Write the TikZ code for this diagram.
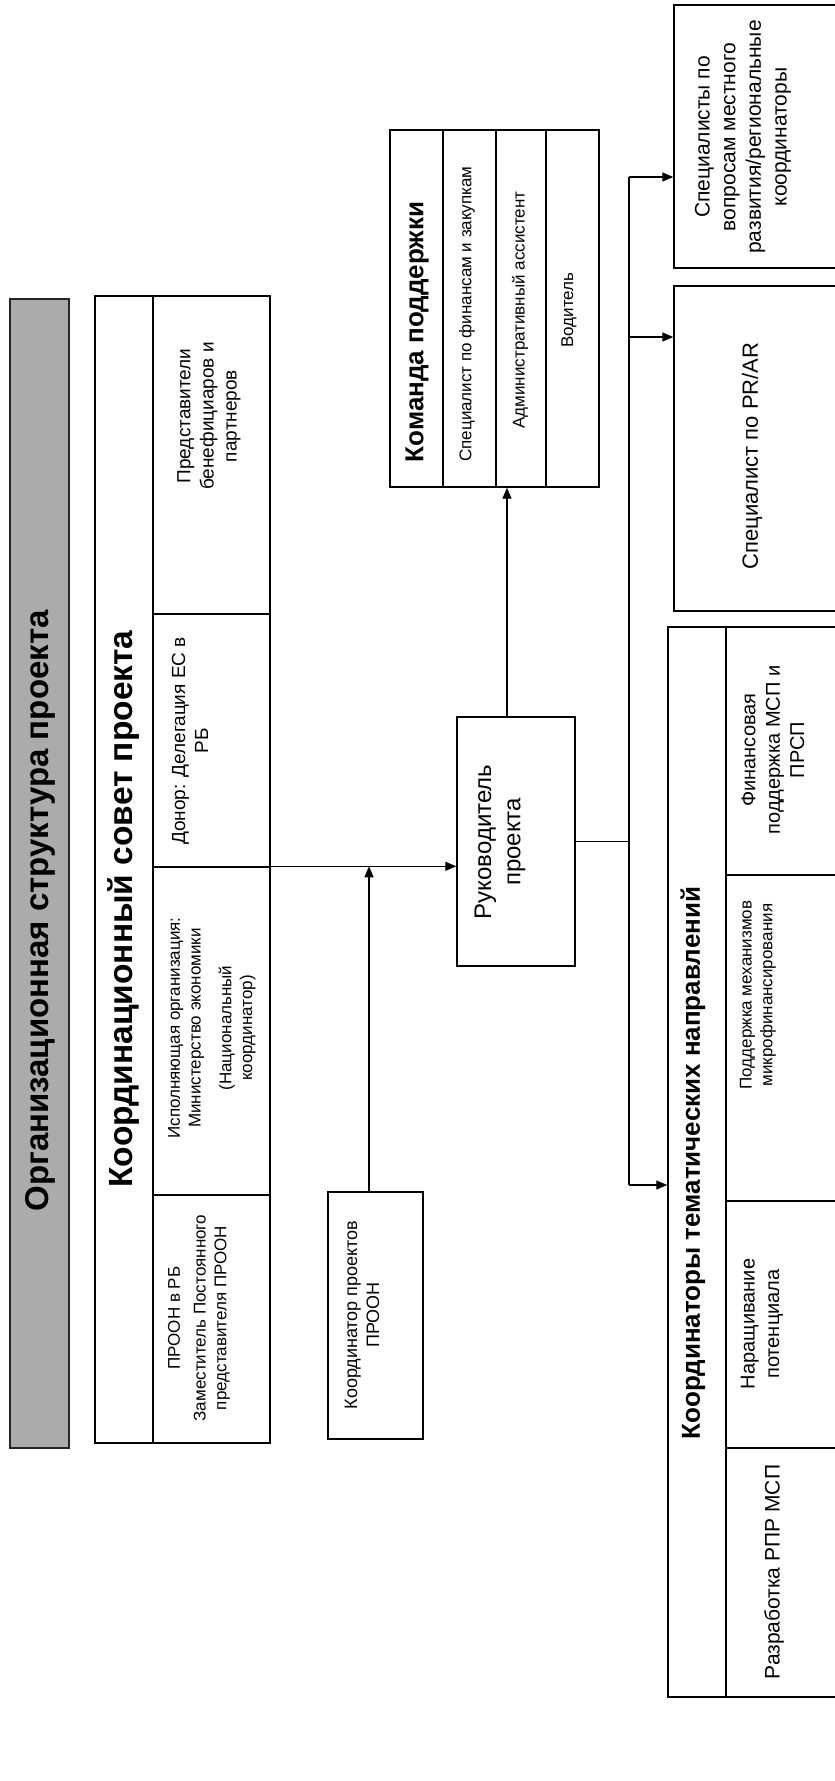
\documentclass[tikz,border=0pt]{standalone}
\usepackage{fontspec}
\setmainfont{Liberation Sans}
\usetikzlibrary{arrows.meta,fit}
\newcommand{\fs}[1]{\fontsize{#1}{1.22\dimexpr #1pt\relax}\selectfont}
\begin{document}
\begin{tikzpicture}[x=1pt,y=-1pt,
  box/.style={draw=black, line width=1.4pt, inner sep=0pt},
  tbox/.style={draw=black!85, line width=2pt, fill=black!33, inner sep=0pt},
  txt/.style={rotate=90, align=center, inner sep=0pt},
  con/.style={line width=1.2pt},
  arr/.style={line width=1.2pt, -{Triangle[length=11pt,width=9pt]}}]
\useasboundingbox (0,0) rectangle (835,1781);

% title
\node[tbox, fit={(10,299) (69,1448)}] (title) {};
\node[txt, font=\bfseries\fs{33}] (titletxt) at (40,911) {Организационная структура проекта};

% coordination council
\node[box, fit={(95,296) (153,1443)}] (ch) {};
\node[box, fit={(153,296) (270,614)}] (cP) {};
\node[box, fit={(153,614) (270,867)}] (cD) {};
\node[box, fit={(153,867) (270,1195)}] (cI) {};
\node[box, fit={(153,1195) (270,1443)}] (cU) {};
\node[txt, font=\bfseries\fs{33.5}] (chtxt) at (124,909) {Координационный совет проекта};
\node[txt, font=\fs{19}] (cPtxt) at (209,416) {Представители\\бенефициаров и\\партнеров};
\node[txt, font=\fs{19}] (cDtxt) at (190,741) {Донор: Делегация ЕС в\\РБ};
\node[txt, font=\fs{17}] (cItxt) at (212,1028) {Исполняющая организация:\\Министерство экономики\\[10pt](Национальный\\координатор)};
\node[txt, font=\fs{17}] (cUtxt) at (199,1318) {ПРООН в РБ\\[5pt]Заместитель Постоянного\\представителя ПРООН};

% UNDP coordinator
\node[box, fit={(328,1192) (423,1439)}] (cu) {};
\node[txt, font=\fs{18}] (cutxt) at (362,1315) {Координатор проектов\\ПРООН};

% project manager
\node[box, fit={(457,717) (575,966)}] (ruk) {};
\node[txt, font=\fs{24}] (ruktxt) at (500,842) {Руководитель\\проекта};

% support team
\node[box, fit={(390,130) (443,487)}] (kh) {};
\node[box, fit={(443,130) (496,487)}] (k1) {};
\node[box, fit={(496,130) (546,487)}] (k2) {};
\node[box, fit={(546,130) (599,487)}] (k3) {};
\node[txt, font=\bfseries\fs{26}] (khtxt) at (417,332) {Команда поддержки};
\node[txt, font=\fs{17}] (k1txt) at (467,314) {Специалист по финансам и закупкам};
\node[txt, font=\fs{17}] (k2txt) at (520,310) {Административный ассистент};
\node[txt, font=\fs{17}] (k3txt) at (569,310) {Водитель};

% local development specialists
\node[box, fit={(674,5) (850,268)}] (sv) {};
\node[txt, font=\fs{21}] (svtxt) at (743,137) {Специалисты по\\вопросам местного\\развития/региональные\\координаторы};

% PR/AR
\node[box, fit={(674,286) (850,611)}] (pr) {};
\node[txt, font=\fs{22}] (prtxt) at (752,456) {Специалист по PR/AR};

% thematic coordinators
\node[box, fit={(668,627) (726,1697)}] (cth) {};
\node[box, fit={(726,627) (850,875)}] (ct1) {};
\node[box, fit={(726,875) (850,1201)}] (ct2) {};
\node[box, fit={(726,1201) (850,1448)}] (ct3) {};
\node[box, fit={(726,1448) (850,1697)}] (ct4) {};
\node[txt, font=\bfseries\fs{26}] (cthtxt) at (693,1163) {Координаторы тематических направлений};
\node[txt, font=\fs{20}] (ct1txt) at (773,750) {Финансовая\\поддержка МСП и\\ПРСП};
\node[txt, font=\fs{17}] (ct2txt) at (758,995) {Поддержка механизмов\\микрофинансирования};
\node[txt, font=\fs{20}] (ct3txt) at (762,1324) {Наращивание\\потенциала};
\node[txt, font=\fs{21}] (ct4txt) at (774,1572) {Разработка РПР МСП};

% connectors
\draw[arr] (cI.north east) -- (ruk.west |- cI.north east);
\draw[arr] ([xshift=-6.5pt]cu.north) -- ([xshift=-6.5pt]cu.north |- cI.north east);
\draw[arr] ([xshift=-9pt]ruk.north) -- ([xshift=-9pt]ruk.north |- kh.south);
\coordinate (bt) at (629,177);
\coordinate (bm) at (629,337);
\coordinate (bb) at (629,1185);
\draw[con] (ruk.east) -- (ruk.east -| bt);
\draw[con] (bt) -- (bb);
\draw[arr] (bt) -- (bt -| sv.west);
\draw[arr] (bm) -- (bm -| pr.west);
\draw[arr] (bb) -- (bb -| cth.west);
\end{tikzpicture}
\end{document}
